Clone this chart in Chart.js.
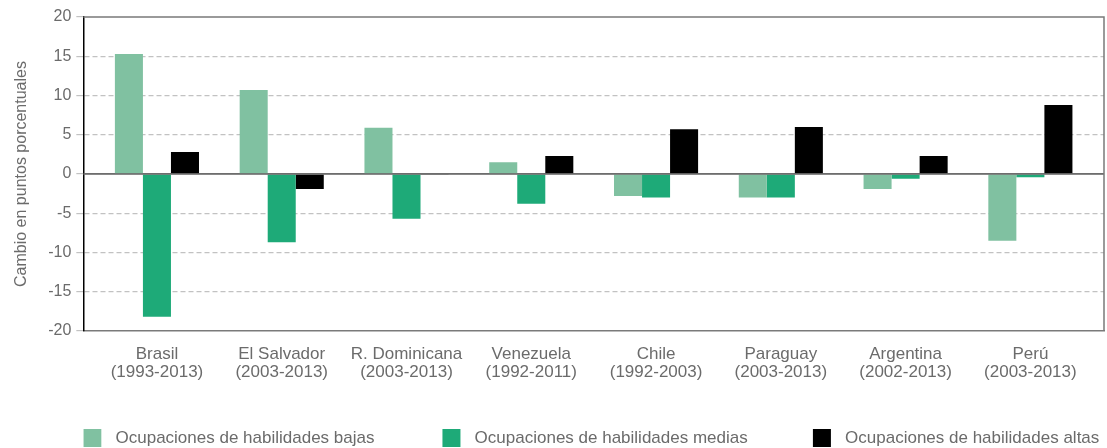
<!DOCTYPE html>
<html>
<head>
<meta charset="utf-8">
<script src="https://cdn.jsdelivr.net/npm/chart.js@4.4.1/dist/chart.umd.min.js"></script>
<style>
  html, body { margin: 0; padding: 0; background: #fff; }
  #wrap { width: 1107px; height: 448px; }
</style>
</head>
<body>
<div id="wrap"><canvas id="chart"></canvas></div>
<script>
const countries = ['Brasil', 'El Salvador', 'R. Dominicana', 'Venezuela', 'Chile', 'Paraguay', 'Argentina', 'Perú'];
const periods = ['(1993-2013)', '(2003-2013)', '(2003-2013)', '(1992-2011)', '(1992-2003)', '(2003-2013)', '(2002-2013)', '(2003-2013)'];

const lowSkill = [15.3, 10.7, 5.9, 1.5, -2.8, -3.0, -1.9, -8.5];
const midSkill = [-18.2, -8.7, -5.7, -3.8, -3.0, -3.0, -0.6, -0.4];
const highSkill = [2.8, -1.9, -0.1, 2.3, 5.7, 6.0, 2.3, 8.8];

const yTicks = [-20, -15, -10, -5, 0, 5, 10, 15, 20];

const seriesNames = ['Ocupaciones de habilidades bajas', 'Ocupaciones de habilidades medias', 'Ocupaciones de habilidades altas'];
const seriesColors = ['#80c1a1', '#1eaa78', '#000000'];

const gray = '#6b6b6b';
const font = "'Liberation Sans', Arial, sans-serif";

// bars sit on a linear x axis so the empty margin at both ends can match the original
const toPoints = values => values.map((v, i) => ({ x: i, y: v }));

// zero line over the bars, plus the top and right edges of the frame
const framePlugin = {
    id: 'frame',
    afterDatasetsDraw(chart) {
        const { ctx, chartArea, scales } = chart;
        const zero = scales.y.getPixelForValue(0);
        ctx.save();
        ctx.strokeStyle = '#6e6e6e';
        ctx.lineWidth = 1.5;
        ctx.beginPath();
        ctx.moveTo(chartArea.left, zero);
        ctx.lineTo(chartArea.right, zero);
        ctx.stroke();
        ctx.strokeStyle = '#7a7a7a';
        ctx.beginPath();
        ctx.moveTo(chartArea.left, chartArea.top);
        ctx.lineTo(chartArea.right, chartArea.top);
        ctx.lineTo(chartArea.right, chartArea.bottom);
        ctx.stroke();
        ctx.restore();
    }
};

// spacing around the legend texts, the original spreads its three entries wide
const legendLead = '\u2004';
const legendGaps = ['\u2003\u2003\u2003\u2003', '\u2003\u2003\u2003\u2002\u2004', ''];

new Chart(document.getElementById('chart'), {
    type: 'bar',
    data: {
        datasets: [
            { label: seriesNames[0], data: toPoints(lowSkill), backgroundColor: seriesColors[0] },
            { label: seriesNames[1], data: toPoints(midSkill), backgroundColor: seriesColors[1] },
            { label: seriesNames[2], data: toPoints(highSkill), backgroundColor: seriesColors[2] }
        ]
    },
    options: {
        responsive: true,
        maintainAspectRatio: false,
        animation: false,
        layout: { padding: { left: 12, right: 3, top: 17, bottom: 0 } },
        datasets: { bar: { categoryPercentage: 0.674, barPercentage: 1 } },
        plugins: {
            tooltip: { enabled: false },
            legend: {
                position: 'bottom',
                align: 'start',
                fullSize: false,
                maxHeight: 19,
                labels: {
                    boxWidth: 18,
                    boxHeight: 18,
                    padding: 0,
                    color: gray,
                    font: { family: font, size: 17 },
                    generateLabels(chart) {
                        return Chart.defaults.plugins.legend.labels.generateLabels(chart).map((item, i) => {
                            item.text = legendLead + item.text + legendGaps[i];
                            return item;
                        });
                    }
                }
            }
        },
        scales: {
            x: {
                type: 'linear',
                offset: false,
                min: -0.59,
                max: 7.59,
                afterBuildTicks(axis) {
                    axis.ticks = countries.map((c, i) => ({ value: i }));
                },
                afterFit(axis) {
                    axis.height = 98;
                },
                grid: { display: false },
                border: { color: '#7a7a7a', width: 1.5 },
                ticks: {
                    autoSkip: false,
                    maxRotation: 0,
                    padding: 6,
                    color: gray,
                    font: { family: font, size: 17, lineHeight: 1.06 },
                    callback: value => [countries[value], periods[value]]
                }
            },
            y: {
                min: -20,
                max: 20,
                afterBuildTicks(axis) {
                    axis.ticks = yTicks.map(v => ({ value: v }));
                },
                grid: {
                    color: ctx => (Math.abs(ctx.tick.value) === 20 ? 'rgba(0,0,0,0)' : ctx.tick.value === 0 ? '#6e6e6e' : '#c2c2c2'),
                    tickColor: '#c2c2c2',
                    tickLength: 7,
                    lineWidth: 1.2
                },
                border: {
                    color: '#000',
                    width: 1.5,
                    dash: ctx => (ctx.tick && ctx.tick.value === 0 ? [] : [5, 3])
                },
                ticks: {
                    padding: 5,
                    color: gray,
                    font: { family: font, size: 16 }
                },
                title: {
                    display: true,
                    text: 'Cambio en puntos porcentuales',
                    color: gray,
                    font: { family: font, size: 16 },
                    padding: { top: 0, bottom: 12 }
                }
            }
        }
    },
    plugins: [framePlugin]
});
</script>
</body>
</html>
